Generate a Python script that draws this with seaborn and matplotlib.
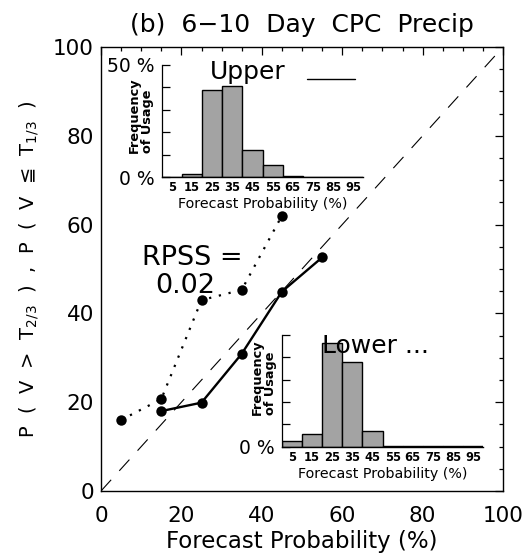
import numpy as np
import pandas as pd
import matplotlib
matplotlib.use("Agg")
import matplotlib.pyplot as plt
import seaborn as sns
from matplotlib.ticker import MultipleLocator

# ---------------- data ----------------
fcst_upper = [15, 25, 35, 45, 55]
obs_upper = [18.0, 19.9, 30.9, 44.9, 52.6]
fcst_lower = [5, 15, 25, 35, 45]
obs_lower = [16.0, 20.7, 43.0, 45.3, 62.0]
bin_centers = [5, 15, 25, 35, 45, 55, 65, 75, 85, 95]
usage_upper = [0.15, 1.3, 38.8, 40.6, 12.0, 5.5, 0.4, 0.1, 0.1, 0.1]
usage_lower = [2.7, 5.6, 46.4, 37.9, 7.0, 0.3, 0.1, 0.1, 0.1, 0.1]
main_ticks = [0, 20, 40, 60, 80, 100]
rpss = 0.02
title = "(b)  6\u221210  Day  CPC  Precip"
xlabel = "Forecast Probability (%)"
ylabel = (r"P  (  V  >  T$_{2/3}$  )  ,  P  (  V  " + "\u2266"
          + r"  T$_{1/3}$  )")

sns.set_style("white")
plt.rcParams["font.family"] = ["DejaVu Sans"]
plt.rcParams["mathtext.default"] = "regular"
for k in ["text.color", "axes.labelcolor", "xtick.color", "ytick.color",
          "axes.edgecolor"]:
    plt.rcParams[k] = "black"

W, H = 526, 558
fig = plt.figure(figsize=(W / 100, H / 100), dpi=100)
ax = fig.add_axes([101 / W, 1 - 491 / H, 402 / W, 444 / H])

# diagonal reference line
ax.axline((0, 0), slope=1, color="black", linewidth=0.8,
          linestyle=(0, (13.6, 10.9)), zorder=1)

sns.lineplot(x=fcst_upper, y=obs_upper, ax=ax, color="black", linewidth=1.7,
             marker="o", markersize=7.5, markeredgewidth=0, zorder=3)
sns.lineplot(x=fcst_lower, y=obs_lower, ax=ax, color="black", linewidth=1.6,
             linestyle=(0, (1, 3.5)), marker="o", markersize=7.5,
             markeredgewidth=0, zorder=3)

ax.set_xlim(0, 100)
ax.set_ylim(0, 100)
ax.set_xticks(main_ticks)
ax.set_yticks(main_ticks)
ax.xaxis.set_minor_locator(MultipleLocator(5))
ax.yaxis.set_minor_locator(MultipleLocator(5))
ax.tick_params(which="both", direction="in", top=True, right=True,
               color="black", width=0.9)
ax.tick_params(which="major", length=5.5, labelsize=15.5)
ax.tick_params(axis="x", which="major", pad=11)
ax.tick_params(axis="y", which="major", pad=5)
ax.tick_params(which="minor", length=3)
for s in ax.spines.values():
    s.set_color("black")
    s.set_linewidth(1.0)
ax.set_xlabel(xlabel, fontsize=16.5, labelpad=3)
ax.set_ylabel(ylabel, fontsize=14, labelpad=9)
ax.set_title(title, fontsize=18, pad=11)

ax.text(10.1, 50.8, "RPSS =", fontsize=19.5, va="baseline", ha="left")
ax.text(13.4, 44.6, f"{rpss:.2f}", fontsize=19.5, va="baseline", ha="left")


def inset(rect, usage, top_label, text, text_xy, lab_xy):
    a = fig.add_axes(rect)
    a.patch.set_alpha(0)
    df = pd.DataFrame({"center": bin_centers, "usage": usage})
    sns.histplot(data=df, x="center", weights="usage", binwidth=10,
                 binrange=(0, 100), ax=a, color="#a3a3a3",
                 edgecolor="black", linewidth=1.0, alpha=1)
    a.set_xlim(0, 100)
    a.set_ylim(0, 50)
    a.spines["top"].set_visible(False)
    a.spines["right"].set_visible(False)
    a.spines["left"].set_color("black")
    a.spines["bottom"].set_color("black")
    a.spines["left"].set_linewidth(0.9)
    a.spines["bottom"].set_linewidth(1.0)
    a.set_xticks(bin_centers)
    a.set_xticklabels([str(c) for c in bin_centers], fontsize=8.3,
                      fontweight="bold")
    a.tick_params(axis="x", length=0, pad=3)
    a.set_yticks([0, 10, 20, 30, 40, 50])
    a.set_yticklabels(["0 %", "", "", "", "", top_label], fontsize=13.5)
    a.tick_params(axis="y", direction="in", length=6, width=0.9, pad=5,
                  left=True, color="black")
    a.set_xlabel(xlabel, fontsize=10.3, labelpad=2)
    a.set_ylabel("")
    a.text(lab_xy[0], lab_xy[1], "Frequency\nof Usage", rotation=90,
           fontsize=9.3, fontweight="bold", ha="center", va="bottom",
           multialignment="left", linespacing=1.0, transform=a.transAxes)
    a.text(text_xy[0], text_xy[1], text, fontsize=18, va="baseline",
           ha="left")
    return a


axu = inset([161.7 / W, 1 - 177.3 / H, 201.6 / W, 112.3 / H], usage_upper,
            "50 %", "Upper", (24, 43.8), (-0.103, 0.22))
axu.plot([0.72, 0.96], [0.876, 0.876], color="black", linewidth=1.0,
         transform=axu.transAxes, clip_on=False)
axl = inset([281.7 / W, 1 - 446.7 / H, 201.6 / W, 111.7 / H], usage_lower,
            "", "Lower ...", (19.8, 41.8), (-0.088, 0.28))

fig.savefig("out.png", dpi=100)
